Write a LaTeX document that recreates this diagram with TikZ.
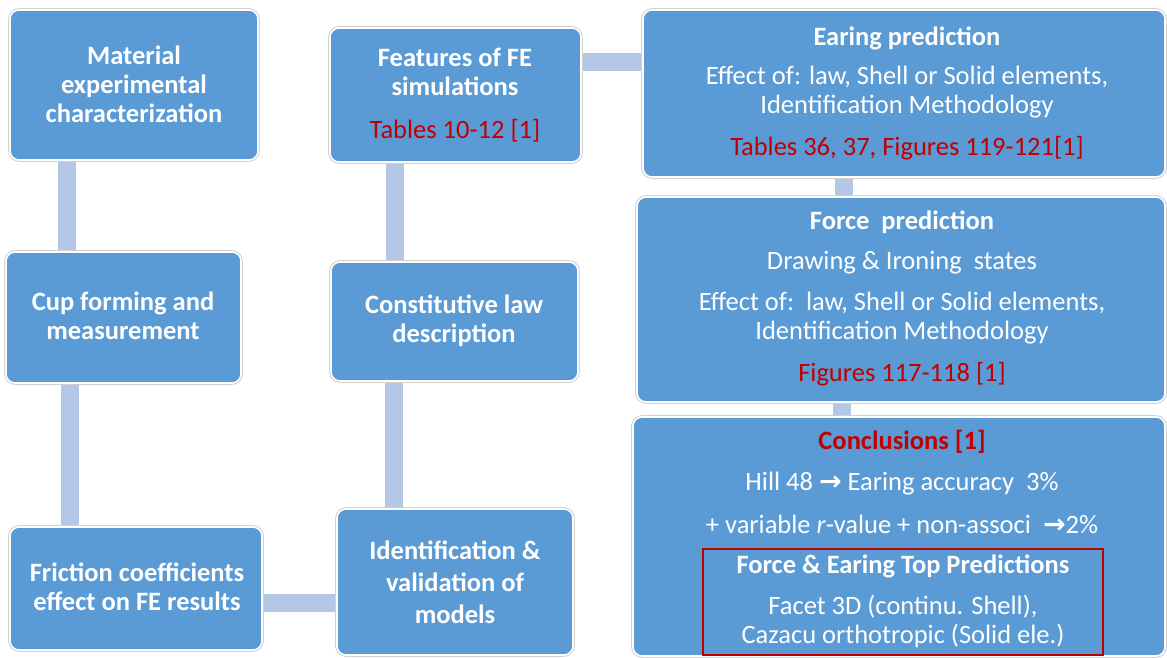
\documentclass[tikz,border=0pt]{standalone}
\usepackage{fontspec}
\setmainfont{Carlito}
\newfontfamily\symfont{DejaVu Sans}
\usetikzlibrary{backgrounds}
\definecolor{boxblue}{HTML}{5B9BD5}
\definecolor{connblue}{HTML}{B4C7E7}
\definecolor{refred}{HTML}{C00000}
\tikzset{
  box/.style={rectangle, rounded corners=9pt, fill=boxblue, draw=white, line width=1.6pt,
    preaction={draw=black!18, line width=3.6pt}, inner sep=0pt},
  conn/.style={draw=connblue, line width=18pt},
  ttl/.style={text=white, font=\bfseries\fontsize{26.5}{29}\selectfont, align=center, inner sep=0pt},
  txt/.style={text=white, font=\fontsize{26.5}{29}\selectfont, align=center, inner sep=0pt},
  reftxt/.style={text=refred, font=\fontsize{26.5}{29}\selectfont, align=center, inner sep=0pt},
  redbox/.style={draw=refred, line width=2pt, inner sep=0pt}
}
\newcommand{\myarrow}{{\symfont\bfseries\fontsize{27}{29}\selectfont →}}
\begin{document}
\begin{tikzpicture}[x=1pt,y=-1pt]
\useasboundingbox (0,0) rectangle (1167,658);
% boxes
\node[box, minimum width=248pt, minimum height=150pt] (mat) at (134,85) {};
\node[box, minimum width=235pt, minimum height=131pt] (cup) at (123.5,317.5) {};
\node[box, minimum width=252pt, minimum height=123pt] (fric) at (136,588.5) {};
\node[box, minimum width=251pt, minimum height=134pt] (feat) at (455.5,95) {};
\node[box, minimum width=247pt, minimum height=119pt] (cons) at (454.5,321.5) {};
\node[box, minimum width=236pt, minimum height=146pt] (ident) at (455,582) {};
\node[box, minimum width=522pt, minimum height=167pt] (ear) at (904,93.5) {};
\node[box, minimum width=528pt, minimum height=205pt] (force) at (901,299.5) {};
\node[box, minimum width=532pt, minimum height=239pt] (concl) at (899,536.5) {};
\node[redbox, minimum width=400pt, minimum height=106pt] (topbox) at (903,602) {};
% texts
\node[ttl] (tmat) at (134,84) {Material\\experimental\\characterization};
\node[ttl] (tcup) at (123,316) {Cup forming and\\measurement};
\node[ttl] (tfric) at (137,587) {Friction coefficients\\effect on FE results};
\node[ttl] (tfeat) at (455,72) {Features of FE\\simulations};
\node[reftxt] (rfeat) at (455,131) {Tables 10-12 [1]};
\node[ttl] (tcons) at (454,321) {Constitutive law\\description};
\node[ttl, font=\bfseries\fontsize{26.5}{32}\selectfont] (tident) at (455,582) {Identification \&\\validation of\\models};
\node[ttl] (tear) at (907,38) {Earing prediction};
\node[txt] (ear1) at (907,92) {Effect of: law, Shell or Solid elements,\\Identification Methodology};
\node[reftxt] (rear) at (907,148) {Tables 36, 37, Figures 119-121[1]};
\node[ttl] (tforce) at (902,222) {Force\ \ prediction};
\node[txt] (force1) at (902,263) {Drawing \& Ironing\ \ states};
\node[txt] (force2) at (902,318) {Effect of:\ \ law, Shell or Solid elements,\\Identification Methodology};
\node[reftxt] (rforce) at (902,374) {Figures 117-118 [1]};
\node[ttl, text=refred] (tconcl) at (902,442) {Conclusions\ [1]};
\node[txt] (concl1) at (902,484) {Hill 48 \myarrow\ Earing accuracy\ \ 3\%};
\node[txt] (concl2) at (902,524) {+ variable \textit{r}-value\ + non-associ\ \ \myarrow2\%};
\node[ttl] (ttop) at (903,566) {Force \& Earing Top Predictions};
\node[txt] (top1) at (903,621) {Facet 3D (continu. Shell),\\Cazacu orthotropic (Solid ele.)};
% connector positions
\coordinate (c1) at (67,0);
\coordinate (c2) at (70,0);
\coordinate (c3) at (0,603);
\coordinate (c4) at (394,0);
\coordinate (c5) at (395,0);
\coordinate (c6) at (0,62);
\coordinate (c7) at (844,0);
\coordinate (c8) at (842,0);
\begin{scope}[on background layer]
\draw[conn] (mat.center -| c1) -- (cup.center -| c1);
\draw[conn] (cup.center -| c2) -- (fric.center -| c2);
\draw[conn] (fric.center |- c3) -- (ident.center |- c3);
\draw[conn] (ident.center -| c4) -- (cons.center -| c4);
\draw[conn] (cons.center -| c5) -- (feat.center -| c5);
\draw[conn] (feat.center |- c6) -- (ear.center |- c6);
\draw[conn] (ear.center -| c7) -- (force.center -| c7);
\draw[conn] (force.center -| c8) -- (concl.center -| c8);
\end{scope}
\end{tikzpicture}
\end{document}
